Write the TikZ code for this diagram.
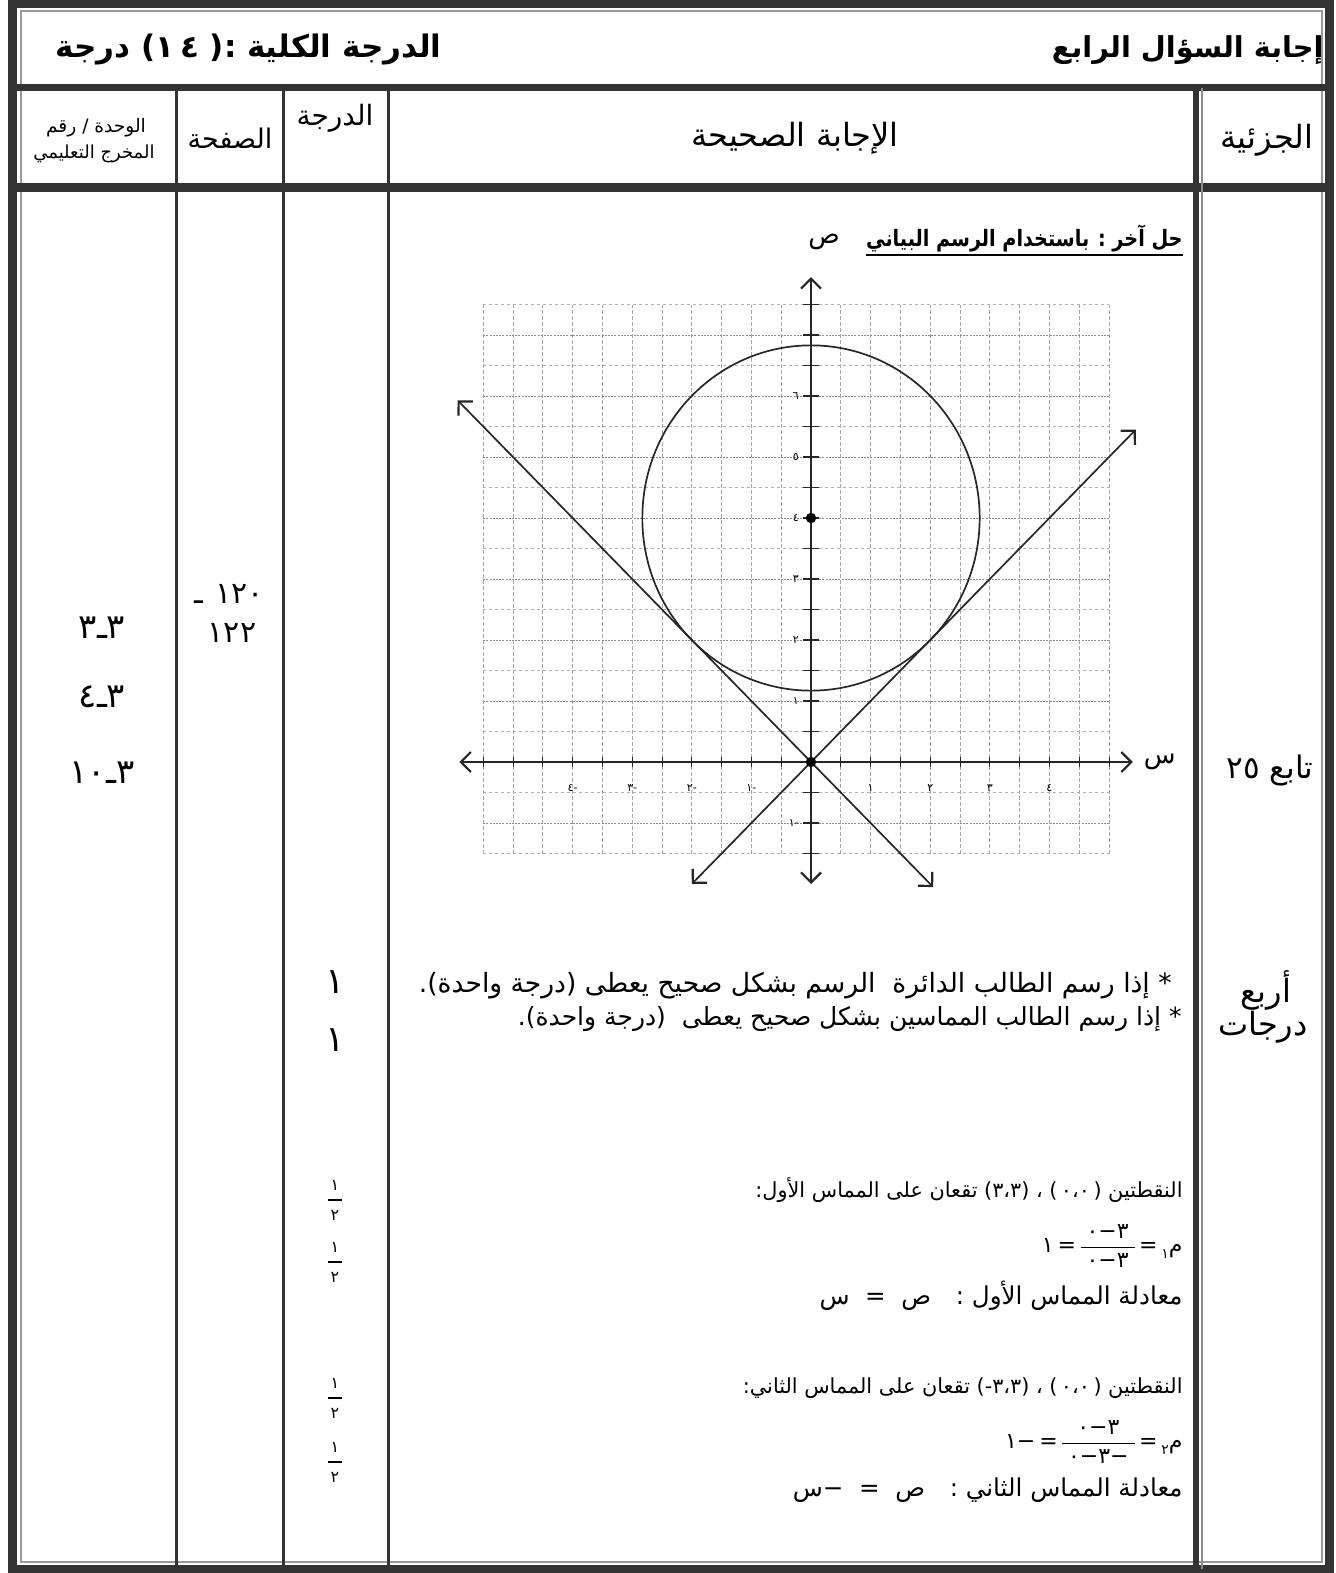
\documentclass[tikz,border=0pt]{standalone}
\usepackage{fontspec}
\setmainfont{Liberation Sans}
\newfontfamily\arabicfont[Script=Arabic]{DejaVu Sans}
\newfontfamily\arabicnarrow[Script=Arabic,FakeStretch=0.85]{DejaVu Sans}
\TeXXeTstate=1
\usetikzlibrary{arrows.meta}
\newcommand\myfrac[2]{$\displaystyle{\hbox{\kern3pt#1\kern3pt}\over\hbox{\kern3pt#2\kern3pt}}$}
\begin{document}
\begin{tikzpicture}[x=0.5pt,y=-0.5pt,
  ar/.style={font=\arabicfont\fontsize{#1}{#1}\selectfont,inner sep=0pt},
  arb/.style={font=\arabicfont\bfseries\fontsize{#1}{#1}\selectfont,inner sep=0pt},
  arn/.style={font=\arabicnarrow\bfseries\fontsize{#1}{#1}\selectfont,inner sep=0pt},
  rule/.style={draw=black!80},
  gridv/.style={draw=black!35,line width=0.35pt,dash pattern=on 2pt off 1pt},
  gridhi/.style={draw=black!45,line width=0.45pt,dash pattern=on 1pt off 0.6pt},
  gridlo/.style={draw=black!30,line width=0.35pt,dash pattern=on 1.5pt off 1.5pt},
  axisln/.style={draw=black!85,line width=1pt},
  arr/.style={{Straight Barb[length=5pt,width=10pt,line width=1.1pt]}-{Straight Barb[length=5pt,width=10pt,line width=1.1pt]}},
  curve/.style={draw=black!85,line width=0.85pt},
  glab/.style={font=\arabicfont\fontsize{5.5}{5.5}\selectfont,inner sep=0pt},
]
\useasboundingbox (0,0) rectangle (1335,1573);
% ---------- frame and table rules ----------
\draw[rule,line width=4.5pt] (12,4) rectangle (1329,1569);
\draw[draw=black!40,line width=0.9pt] (21,11) rectangle (1322,1562);
\draw[rule,line width=3.5pt] (12,88) -- (1329,88);
\draw[rule,line width=4.5pt] (12,188) -- (1329,188);
\foreach \x in {176,283,388} \draw[rule,line width=1.5pt] (\x,88) -- (\x,1569);
\draw[rule,line width=3.2pt] (1196,88) -- (1196,1569);
\draw[draw=black!45,line width=1pt] (1202,88) -- (1202,1569);
% ---------- title row ----------
\node[arb=14.4,anchor=east] (t1) at (1324,50) {\beginR إجابة السؤال الرابع\endR};
\node[arb=15.5,anchor=west] (t2) at (55,50) {\beginR الدرجة الكلية :(\ \beginL١\kern3pt٤\endL)\ درجة\endR};
% ---------- header row ----------
\node[ar=16] (hJ) at (1267,140) {\beginR الجزئية\endR};
\node[ar=16] (hA) at (795,138) {\beginR الإجابة الصحيحة\endR};
\node[ar=14] (hD) at (335,118) {\beginR الدرجة\endR};
\node[ar=13.5] (hS) at (230,138) {\beginR الصفحة\endR};
\node[ar=9.3] (hW1) at (96,128) {\beginR الوحدة / رقم\endR};
\node[ar=9] (hW2) at (94,154) {\beginR المخرج التعليمي\endR};
% ---------- column 1 and 2 ----------
\node[ar=17] (u1) at (102,628) {٣\kern0ptـ\kern0pt٣};
\node[ar=17] (u2) at (102,697) {٤\kern0ptـ\kern0pt٣};
\node[ar=17] (u3) at (102,773) {١٠\kern0ptـ\kern0pt٣};
\node[ar=15] (p1) at (229,594) {ـ\kern6pt ١٢٠};
\node[ar=15] (p2) at (232,633) {١٢٢};
% ---------- column 4 ----------
\node[ar=15.5] (j1) at (1270,770) {\beginR تابع ٢٥\endR};
\node[ar=16] (j2) at (1266,990) {\beginR أربع\endR};
\node[ar=16] (j3) at (1263,1027) {\beginR درجات\endR};
% ---------- column 3 ----------
\node[ar=18] (d1) at (335,982) {١};
\node[ar=18] (d2) at (335,1040) {١};
\foreach \y/\i in {1200/1,1262/2,1398/3,1462/4}{
  \node[ar=8] (fn\i) at (335,\y-15) {١};
  \node[ar=8] (fd\i) at (335,\y+15) {٢};
  \draw[line width=0.6pt] (328,\y) -- (342,\y);
}
% ---------- answer column: heading ----------
\node[arn=11.3,anchor=east] (hl) at (1183,238) {\beginR حل آخر : باستخدام الرسم البياني\endR};
\draw[line width=0.7pt] ([yshift=-1.5pt]hl.south west) -- ([yshift=-1.5pt]hl.south east);
% ---------- graph ----------
\begin{scope}[shift={(405.5pt,-381pt)},x=29.8pt,y=30.5pt]
  \foreach \k in {0,...,21}{\draw[gridv] ({-5.5+0.5*\k},-1.5) -- ({-5.5+0.5*\k},7.5);}
  \foreach \k in {0,...,18}{\ifodd\k \draw[gridhi] (-5.5,{-1.5+0.5*\k}) -- (5,{-1.5+0.5*\k});\else \draw[gridlo] (-5.5,{-1.5+0.5*\k}) -- (5,{-1.5+0.5*\k});\fi}
  \coordinate (xl) at (-5.9,0); \coordinate (xr) at (5.4,0);
  \coordinate (yb) at (0,-2.0); \coordinate (yt) at (0,7.95);
  \draw[axisln,arr] (xl) -- (xr);
  \draw[axisln,arr] (yb) -- (yt);
  \foreach \k in {0,...,18}{\draw[axisln,line width=0.8pt] (-0.13,{-1.5+0.5*\k}) -- (0.13,{-1.5+0.5*\k});}
  \foreach \k in {0,...,21}{\draw[axisln,line width=0.5pt] ({-5.5+0.5*\k},-0.09) -- ({-5.5+0.5*\k},0.09);}
  \node[glab,anchor=east] (ly1) at (-0.2,1) {١};
  \node[glab,anchor=east] (ly2) at (-0.2,2) {٢};
  \node[glab,anchor=east] (ly3) at (-0.2,3) {٣};
  \node[glab,anchor=east] (ly4) at (-0.2,4) {٤};
  \node[glab,anchor=east] (ly5) at (-0.2,5) {٥};
  \node[glab,anchor=east] (ly6) at (-0.2,6) {٦};
  \node[glab,anchor=east] (lym) at (-0.2,-1) {١\kern0pt-};
  \node[glab] (lx1) at (1,-0.42) {١};
  \node[glab] (lx2) at (2,-0.42) {٢};
  \node[glab] (lx3) at (3,-0.42) {٣};
  \node[glab] (lx4) at (4,-0.42) {٤};
  \node[glab] (lxm1) at (-1,-0.42) {١\kern0pt-};
  \node[glab] (lxm2) at (-2,-0.42) {٢\kern0pt-};
  \node[glab] (lxm3) at (-3,-0.42) {٣\kern0pt-};
  \node[glab] (lxm4) at (-4,-0.42) {٤\kern0pt-};
  \draw[curve] (0,4) ellipse [x radius=2.83, y radius=2.83];
  \coordinate (a1) at (-2,-2); \coordinate (a2) at (5.45,5.45);
  \coordinate (b1) at (-5.93,5.93); \coordinate (b2) at (2.05,-2.05);
  \draw[curve,arr] (a1) -- (a2);
  \draw[curve,arr] (b1) -- (b2);
  \fill (0,4) circle (2.6pt);
  \fill (0,0) circle (2.6pt);
  \node[ar=13] (axY) at (0.22,8.52) {ص};
  \node[ar=13] (axX) at (5.85,0) {س};
\end{scope}
% ---------- answer column: text ----------
\node[ar=13.3,anchor=east] (b1t) at (1172,986) {\beginR * إذا رسم الطالب الدائرة\ \ الرسم بشكل صحيح يعطى (درجة واحدة).\endR};
\node[ar=12.5,anchor=east] (b2t) at (1182,1019) {\beginR * إذا رسم الطالب المماسين بشكل صحيح يعطى\ \ (درجة واحدة).\endR};
\node[ar=10.4,anchor=east] (l1) at (1183,1190) {\beginR النقطتين (\,٠،٠\,) ، (٣،٣) تقعان على المماس الأول:\endR};
\node[ar=11,anchor=east] (m1) at (1183,1246) {١\kern2pt=\kern1pt\myfrac{٠\kern0pt−\kern0pt٣}{٠\kern0pt−\kern0pt٣}\kern1pt=\kern2pt\raisebox{-3pt}{\fontsize{7}{7}\selectfont ١}\kern0ptم};
\node[ar=12.3,anchor=east] (e1) at (1183,1296) {\beginR معادلة المماس الأول :\quad ص\ \ =\ \ س\endR};
\node[ar=10.4,anchor=east] (l2) at (1183,1388) {\beginR النقطتين (\,٠،٠\,) ، (٣،٣\kern0pt-\kern0pt) تقعان على المماس الثاني:\endR};
\node[ar=11,anchor=east] (m2) at (1183,1442) {١\kern0pt−\kern2pt=\kern1pt\myfrac{٠\kern0pt−\kern0pt٣}{٠\kern0pt−\kern0pt٣\kern0pt−}\kern1pt=\kern2pt\raisebox{-3pt}{\fontsize{7}{7}\selectfont ٢}\kern0ptم};
\node[ar=12.3,anchor=east] (e2) at (1183,1490) {\beginR معادلة المماس الثاني :\quad ص\ \ =\ \ −س\endR};
\end{tikzpicture}
\end{document}
